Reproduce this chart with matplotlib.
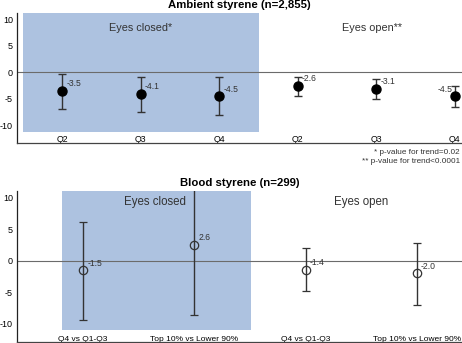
import matplotlib
matplotlib.use('Agg')
import matplotlib.pyplot as plt
from matplotlib.patches import Rectangle

plt.rcParams['font.family'] = ['Liberation Sans', 'DejaVu Sans']

# ambient styrene (n=2,855)
amb_labels = ['Q2', 'Q3', 'Q4', 'Q2', 'Q3', 'Q4']
amb_est = [-3.5, -4.1, -4.5, -2.6, -3.1, -4.5]
amb_lo = [-6.8, -7.4, -8.1, -4.5, -5.0, -6.5]
amb_hi = [-0.2, -0.8, -0.9, -0.8, -1.3, -2.5]

# blood styrene (n=299)
bld_labels = ['Q4 vs Q1-Q3', 'Top 10% vs Lower 90%', 'Q4 vs Q1-Q3', 'Top 10% vs Lower 90%']
bld_est = [-1.5, 2.6, -1.4, -2.0]
bld_lo = [-9.4, -8.6, -4.8, -7.0]
bld_hi = [6.2, 14.0, 2.0, 2.8]

BLUE = '#adc2e0'
DARK = '#333333'

fig = plt.figure(figsize=(4.62, 3.43), dpi=100)


def panel(ax, labels, est, lo, hi, filled, ylim, xlim, rect, rect_y0, xsize, xpad):
    x = list(range(1, len(est) + 1))
    ax.set_xlim(*xlim)
    ax.set_ylim(*ylim)
    ax.add_patch(Rectangle((rect[0], rect_y0), rect[1] - rect[0], ylim[1] - rect_y0,
                           facecolor=BLUE, edgecolor='none', zorder=0))
    ax.axhline(0, color='#6b6b6b', lw=0.8, zorder=1)
    yerr = [[e - l for e, l in zip(est, lo)], [h - e for e, h in zip(est, hi)]]
    if filled:
        ax.errorbar(x, est, yerr=yerr, fmt='o', ms=6.5, mfc='black', mec='black',
                    ecolor=DARK, elinewidth=1, capsize=3, capthick=1, zorder=3)
    else:
        ax.errorbar(x, est, yerr=yerr, fmt='o', ms=6, mfc='none', mec=DARK, mew=0.9,
                    ecolor=DARK, elinewidth=1, capsize=3, capthick=1, zorder=3)
    ax.set_yticks([10, 5, 0, -5, -10])
    ax.set_yticklabels(['10', '5', '0', '-5', '-10'])
    ax.set_xticks(x)
    ax.set_xticklabels(labels)
    ax.tick_params(axis='y', length=0, labelsize=6.5, pad=3)
    ax.tick_params(axis='x', length=0, labelsize=xsize, pad=xpad)
    for s in ['top', 'right']:
        ax.spines[s].set_visible(False)
    ax.spines['left'].set_color('#222222')
    ax.spines['bottom'].set_color('#444444')
    ax.spines['left'].set_linewidth(0.9)
    ax.spines['bottom'].set_linewidth(0.9)
    return x


ax1 = fig.add_axes([0.037, 0.583, 0.963, 0.379])
x1 = panel(ax1, amb_labels, amb_est, amb_lo, amb_hi, True,
           (-13.3, 11.2), (0.427, 6.09), (0.5, 3.5), -11.3, 6.3, -6)
for i, (xx, e) in enumerate(zip(x1, amb_est)):
    if i == 5:
        ax1.annotate(f'{e:.1f}', (xx, e), xytext=(-2, 2), textcoords='offset points',
                     ha='right', va='bottom', fontsize=6.2, color=DARK)
    else:
        ax1.annotate(f'{e:.1f}', (xx, e), xytext=(3, 2), textcoords='offset points',
                     ha='left', va='bottom', fontsize=6.2, color=DARK)
ax1.text(2, 8.4, 'Eyes closed*', ha='center', va='center', fontsize=7.8, color=DARK)
ax1.text(4.95, 8.4, 'Eyes open**', ha='center', va='center', fontsize=7.8, color=DARK)

ax2 = fig.add_axes([0.037, 0.003, 0.963, 0.44])
x2 = panel(ax2, bld_labels, bld_est, bld_lo, bld_hi, False,
           (-12.9, 11.1), (0.407, 4.405), (0.81, 2.51), -11.0, 6.0, -4)
for xx, e in zip(x2, bld_est):
    ax2.annotate(f'{e:.1f}', (xx, e), xytext=(3, 2), textcoords='offset points',
                 ha='left', va='bottom', fontsize=6.2, color=DARK)
ax2.text(1.65, 9.3, 'Eyes closed', ha='center', va='center', fontsize=8.3, color=DARK)
ax2.text(3.5, 9.3, 'Eyes open', ha='center', va='center', fontsize=8.3, color=DARK)

fig.text(0.518, 0.985, 'Ambient styrene (n=2,855)', ha='center', va='center',
         fontsize=8.2, fontweight='bold')
fig.text(0.518, 0.466, 'Blood styrene (n=299)', ha='center', va='center',
         fontsize=8.2, fontweight='bold')
fig.text(0.995, 0.556, '* p-value for trend=0.02', ha='right', va='center', fontsize=5.9, color=DARK)
fig.text(0.995, 0.530, '** p-value for trend<0.0001', ha='right', va='center', fontsize=5.9, color=DARK)

fig.savefig('out.png', dpi=100)
